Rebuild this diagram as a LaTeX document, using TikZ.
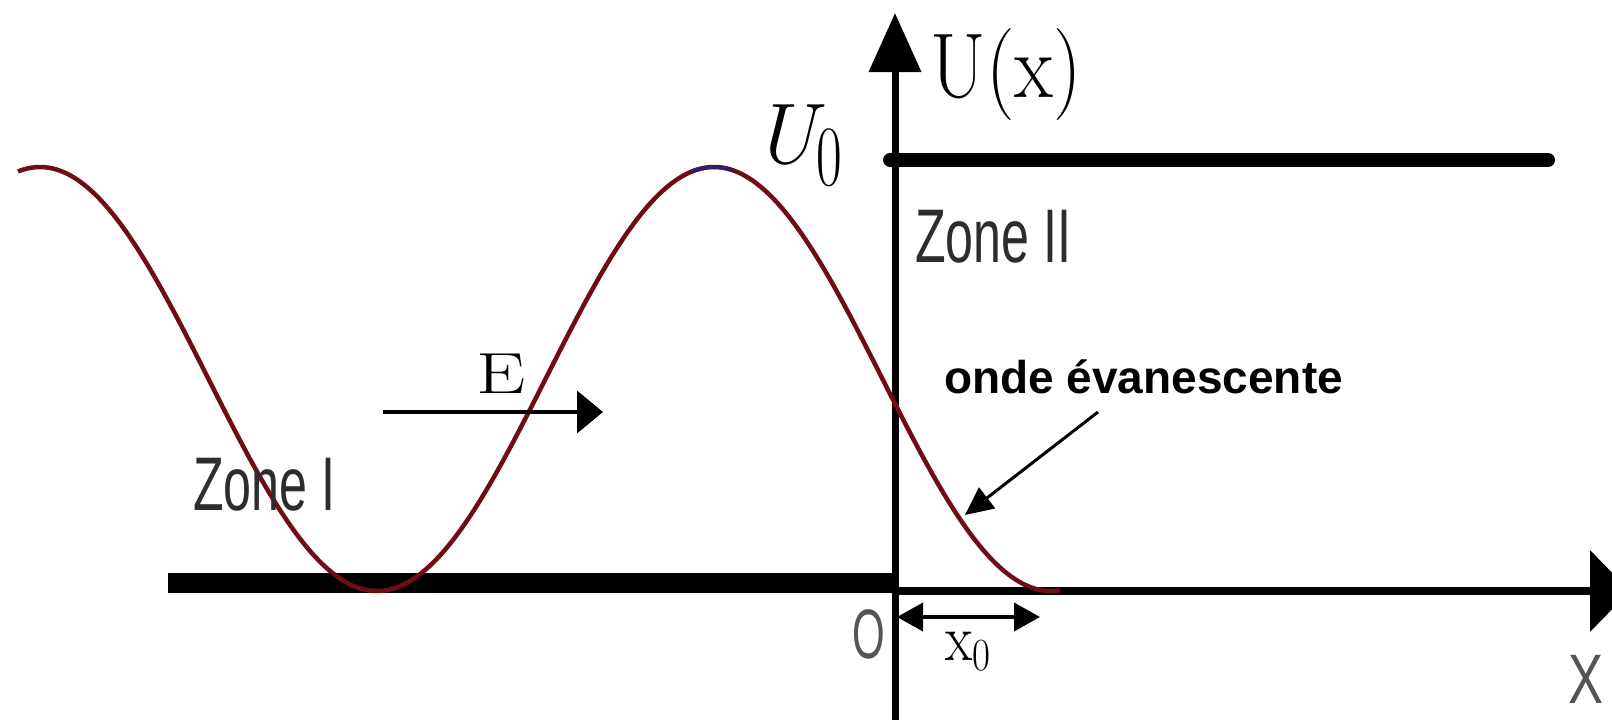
\documentclass[tikz,border=0pt]{standalone}
\usepackage{fontspec}
\newfontfamily\arialf{Liberation Sans}
\usetikzlibrary{arrows.meta}
\definecolor{curvecol}{RGB}{112,12,22}
\definecolor{peakblue}{RGB}{50,30,100}
\definecolor{labgray}{RGB}{45,45,45}
\definecolor{softgray}{RGB}{85,85,85}
\begin{document}
\begin{tikzpicture}[x=1pt,y=-1pt,
  zonelab/.style={anchor=base west, inner sep=0pt, text=labgray, font=\arialf\fontsize{76}{76}\selectfont},
  axlab/.style={anchor=base west, inner sep=0pt, text=softgray, font=\arialf\fontsize{70}{70}\selectfont},
  seriflab/.style={anchor=base, inner sep=0pt},
  wave/.style={curvecol, line width=4.5pt},
  thinarrow/.style={line width=4pt},
]
\useasboundingbox (0,0) rectangle (1612,720);
\clip (0,0) rectangle (1612,720);

% coordinates
\coordinate (ybot) at (895,720);
\coordinate (ytop) at (895,13);
\coordinate (xorig) at (895,591);
\coordinate (xtip) at (1630,591);
\coordinate (lowL) at (168,583);
\coordinate (lowR) at (895,583);
\coordinate (highL) at (890,160);
\coordinate (highR) at (1548,160);
\coordinate (eL) at (383,412);
\coordinate (eR) at (603,412);
\coordinate (evS) at (1098,412);
\coordinate (evE) at (965,515);
\coordinate (x0L) at (897,617);
\coordinate (x0R) at (1040,617);

% potential levels
\draw[line width=20pt] (lowL) -- (lowR);
\draw[line width=14pt, line cap=round] (highL) -- (highR);

% axes
\draw[line width=8pt, -{Triangle[length=40pt,width=80pt]}] (xorig) -- (xtip);
\draw[line width=7pt, -{Triangle[length=59pt,width=51pt]}] (ybot) -- (ytop);

% wave
\draw[wave] plot[domain=18:1060, samples=300] (\x, {379-212*cos((\x-40)/337*180)});
\draw[peakblue, line width=4pt] plot[domain=692:734, samples=20] (\x, {379-212*cos((\x-40)/337*180)});

% arrows
\draw[thinarrow, -{Triangle[length=26pt,width=42pt]}] (eL) -- (eR);
\draw[line width=3pt, -{Triangle[length=28pt,width=26pt]}] (evS) -- (evE);
\draw[thinarrow, {Triangle[length=26pt,width=28pt]}-{Triangle[length=26pt,width=28pt]}] (x0L) -- (x0R);

% labels
\node[seriflab, font=\fontsize{92}{92}\selectfont] (ux) at (1006,97) {\scalebox{0.87}[1]{U(x)}};
\node[seriflab, font=\fontsize{58}{58}\selectfont] (E) at (501,393) {\scalebox{1.35}[1]{E}};
\node[seriflab, font=\fontsize{86}{86}\selectfont] (U0) at (798,163) {\scalebox{1.0}[1]{\itshape U}\raisebox{-22pt}{\scalebox{0.65}[1]{0}}};
\node[seriflab, font=\fontsize{66}{66}\selectfont] (x0) at (968,660) {\scalebox{0.85}[1]{x\raisebox{-10pt}{\fontsize{46}{46}\selectfont 0}}};
\node[zonelab] (z1) at (193,510) {\scalebox{0.66}[1]{Zone I}};
\node[zonelab] (z2) at (915,262) {\scalebox{0.66}[1]{Zone II}};
\node[axlab] (O) at (852,658) {\scalebox{0.6}[1]{O}};
\node[axlab] (X) at (1568,703) {\scalebox{0.75}[1]{X}};
\node[anchor=base west, inner sep=0pt, font=\arialf\bfseries\fontsize{46}{46}\selectfont] (onde) at (944,393) {onde évanescente};
\end{tikzpicture}
\end{document}
